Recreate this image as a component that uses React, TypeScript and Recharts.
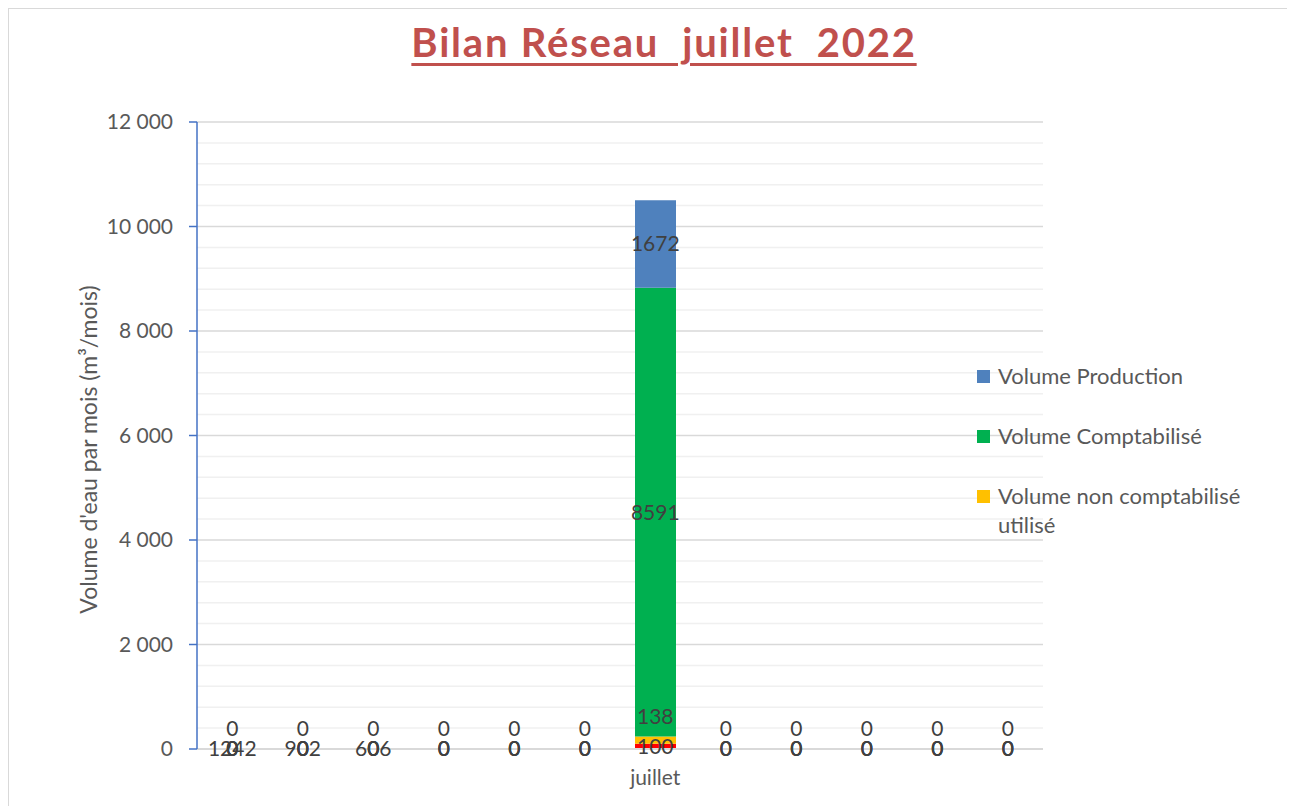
import React from 'react';
import { ComposedChart, Bar, Line, XAxis, YAxis, CartesianGrid, LabelList, Legend } from 'recharts';

const months = ['janvier', 'février', 'mars', 'avril', 'mai', 'juin', 'juillet', 'août', 'septembre', 'octobre', 'novembre', 'décembre'];
const shownMonthLabels = ['juillet'];
const volumePertes = [0, 0, 0, 0, 0, 0, 100, 0, 0, 0, 0, 0];
const volumeNonComptUtilise = [0, 0, 0, 0, 0, 0, 138, 0, 0, 0, 0, 0];
const volumeComptabilise = [0, 0, 0, 0, 0, 0, 8591, 0, 0, 0, 0, 0];
const volumeProduction = [0, 0, 0, 0, 0, 0, 1672, 0, 0, 0, 0, 0];
const baseLabelValues: (number | null)[] = [1242, 902, 606, null, null, null, null, null, null, null, null, null];
const legendOrder = ['Volume Production', 'Volume Comptabilisé', 'Volume non comptabilisé utilisé'];
const majorTicks = [0, 2000, 4000, 6000, 8000, 10000, 12000];
const minorTicks = [400, 800, 1200, 1600, 2400, 2800, 3200, 3600, 4400, 4800, 5200, 5600, 6400, 6800, 7200, 7600, 8400, 8800, 9200, 9600, 10400, 10800, 11200, 11600];

const data = months.map((m, i) => ({
  mois: m,
  pertes: volumePertes[i],
  nonCompt: volumeNonComptUtilise[i],
  compt: volumeComptabilise[i],
  prod: volumeProduction[i],
  base: baseLabelValues[i],
}));

const FONT = 'Lato, "Open Sans", sans-serif';
const labelStyle = { fontSize: 21, fill: '#404040', fontFamily: FONT };

const fmt = (v: number) => v === 0 ? '0' : v.toLocaleString('fr-FR').replace(/\u202f|\u00a0/g, ' ');

const renderLegend = (props: any) => {
  const items = (props.payload || [])
    .filter((p: any) => p.type !== 'none')
    .sort((a: any, b: any) => legendOrder.indexOf(a.value) - legendOrder.indexOf(b.value));
  return (
    <div style={{ width: 300 }}>
      {items.map((it: any, i: number) => (
        <div key={i} style={{ display: 'flex', alignItems: 'flex-start', marginBottom: 31 }}>
          <div style={{ width: 13, height: 13, background: it.color, marginTop: 9, marginRight: 8, flex: '0 0 13px' }} />
          <div style={{ fontSize: 22, color: '#595959', lineHeight: '29px', width: 262, fontFamily: FONT }}>{it.value}</div>
        </div>
      ))}
    </div>
  );
};

const hiddenLine = { stroke: 'none', dot: false, activeDot: false, legendType: 'none' as const, isAnimationActive: false };

export default function App() {
  return (
    <div style={{ position: 'relative', width: 1279, height: 805, border: '1px solid #d9d9d9', background: '#fff', fontFamily: FONT, overflow: 'hidden' }}>
      <div style={{ position: 'absolute', left: 0, width: 1310, top: 9, textAlign: 'center', whiteSpace: 'pre', color: '#c0504d', fontWeight: 700, fontSize: 40, letterSpacing: 1.8, textDecoration: 'underline', textDecorationThickness: 3, textUnderlineOffset: 6, fontFamily: FONT }}>
        {'Bilan Réseau  juillet  2022'}
      </div>
      <ComposedChart width={1279} height={797} data={data} margin={{ top: 113, right: 245, left: 88, bottom: 17 }} barSize={41}>
        <CartesianGrid horizontal vertical={false} horizontalValues={minorTicks} stroke="#f0f0f0" strokeWidth={1.5} />
        <CartesianGrid horizontal vertical={false} horizontalValues={majorTicks.filter(t => t > 0)} stroke="#d9d9d9" strokeWidth={1.5} />
        <XAxis dataKey="mois" axisLine={{ stroke: '#d9d9d9', strokeWidth: 2 }} tickLine={false} tickSize={0} tickMargin={21} height={40} interval={0}
          tick={{ fontSize: 21, fill: '#595959', fontFamily: FONT }}
          tickFormatter={(v: string) => (shownMonthLabels.includes(v) ? v : '')} />
        <YAxis width={100} domain={[0, 12000]} ticks={majorTicks} interval={0} axisLine={{ stroke: '#4472c4', strokeWidth: 1.5 }}
          tickLine={{ stroke: '#4472c4', strokeWidth: 1.5 }} tickSize={8} tickMargin={16}
          tick={{ fontSize: 21, fill: '#595959', fontFamily: FONT }} tickFormatter={fmt}
          label={{ value: "Volume d'eau par mois (m³/mois)", angle: -90, position: 'center', dx: -58, dy: 14, style: { fontSize: 23, fill: '#595959', fontFamily: FONT } }} />
        <Legend layout="vertical" align="center" verticalAlign="middle" content={renderLegend}
          wrapperStyle={{ left: 968, top: 352, width: 300 }} />
        <Bar dataKey="pertes" name="Volume pertes" stackId="a" fill="#ff0000" legendType="none" isAnimationActive={false} />
        <Bar dataKey="nonCompt" name="Volume non comptabilisé utilisé" stackId="a" fill="#ffc000" legendType="square" isAnimationActive={false} />
        <Bar dataKey="compt" name="Volume Comptabilisé" stackId="a" fill="#00b050" legendType="square" isAnimationActive={false} />
        <Bar dataKey="prod" name="Volume Production" stackId="a" fill="#4f81bd" legendType="square" isAnimationActive={false} />
        <Line {...hiddenLine} dataKey={(d: any) => d.pertes / 2}>
          <LabelList dataKey="pertes" position="center" style={labelStyle} />
          <LabelList dataKey="base" position="center" style={labelStyle} />
        </Line>
        <Line {...hiddenLine} dataKey={(d: any) => d.pertes + d.nonCompt}>
          <LabelList dataKey="nonCompt" position="top" offset={13} style={labelStyle} />
        </Line>
        <Line {...hiddenLine} dataKey={(d: any) => d.pertes + d.nonCompt + d.compt / 2}>
          <LabelList dataKey="compt" position="center" style={labelStyle} />
        </Line>
        <Line {...hiddenLine} dataKey={(d: any) => d.pertes + d.nonCompt + d.compt + d.prod / 2}>
          <LabelList dataKey="prod" position="center" style={labelStyle} />
        </Line>
      </ComposedChart>
    </div>
  );
}
